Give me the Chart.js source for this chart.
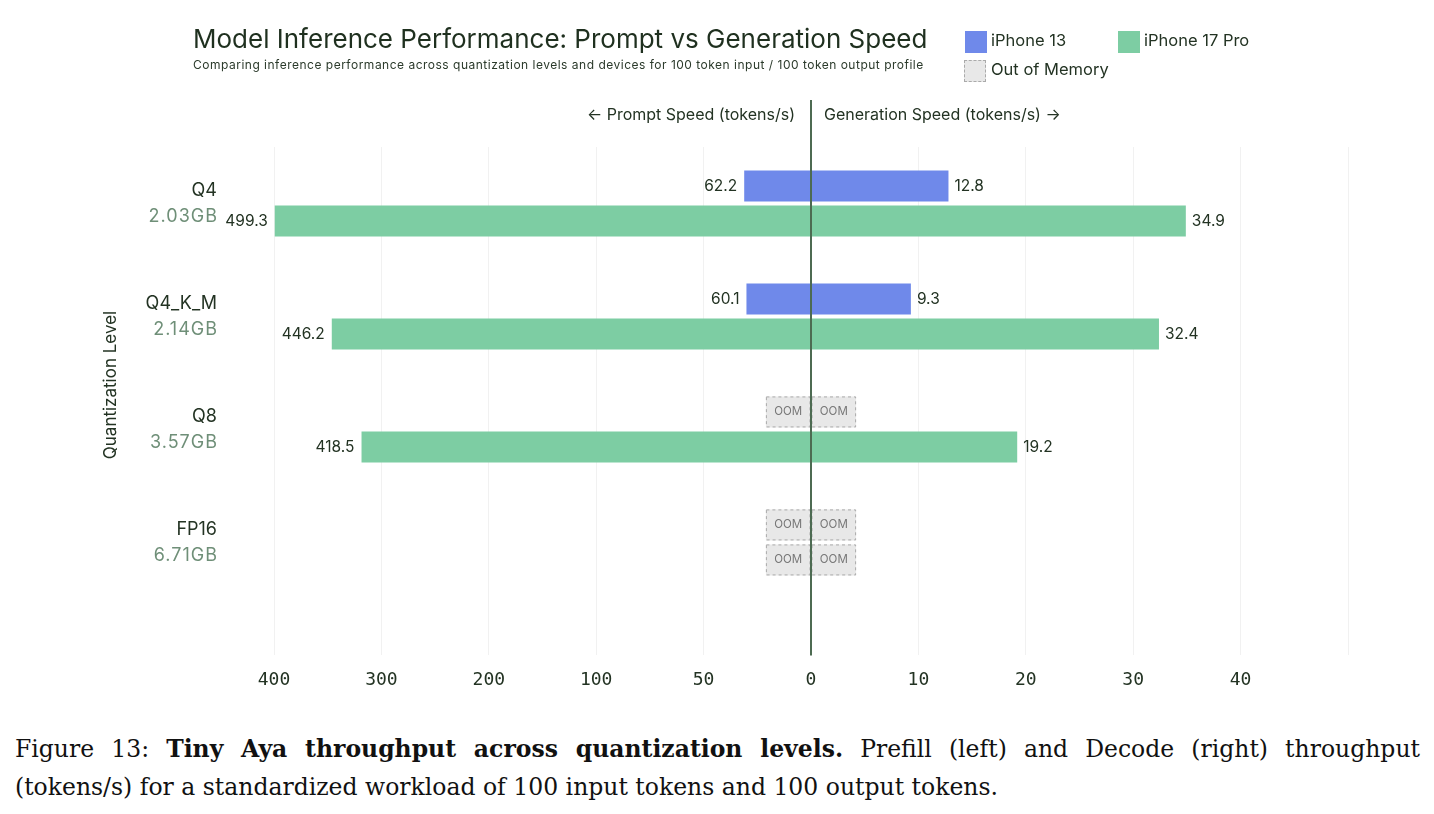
<!DOCTYPE html>
<html>
<head>
<meta charset="utf-8">
<script src="https://cdn.jsdelivr.net/npm/chart.js@4"></script>
<style>
  body { margin: 0; background: #fff; }
  #page { position: relative; width: 1434px; height: 814px; overflow: hidden; font-family: Inter, "Noto Sans", sans-serif; color: #233323; }
  #chartBox { position: absolute; left: 0; top: 0; width: 1434px; height: 715px; }
  .abs { position: absolute; white-space: nowrap; }
  #title { left: 193px; top: 23px; font-size: 26px; color: #1f301f; }
  #subtitle { left: 193px; top: 57px; font-size: 12px; letter-spacing: 0.5px; color: #2b3a2b; }
  .swatch { position: absolute; width: 22px; height: 22px; }
  .legText { font-size: 16.5px; color: #233323; }
  #caption { position: absolute; left: 15px; width: 1405px; top: 730px; font-family: "DejaVu Serif", serif; font-size: 23.5px; line-height: 38px; color: #111; }
  #caption .l1 { white-space: nowrap; text-align: justify; text-align-last: justify; }
  #caption .l2 { white-space: nowrap; }
</style>
</head>
<body>
<div id="page">
  <div id="chartBox"><canvas id="chart"></canvas></div>
  <div id="title" class="abs">Model Inference Performance: Prompt vs Generation Speed</div>
  <div id="subtitle" class="abs">Comparing inference performance across quantization levels and devices for 100 token input / 100 token output profile</div>
  <div class="swatch" style="left:965px;top:31px;background:#6f89ea"></div>
  <div class="abs legText" style="left:991px;top:30px">iPhone 13</div>
  <div class="swatch" style="left:1118px;top:31px;background:#7dcda3"></div>
  <div class="abs legText" style="left:1144px;top:30px">iPhone 17 Pro</div>
  <div class="swatch" style="left:964px;top:60px;width:20px;height:20px;background:#e8e8e8;border:1px dashed #aaa"></div>
  <div class="abs legText" style="left:991px;top:59px">Out of Memory</div>
  <div id="caption">
    <div class="l1">Figure 13: <b>Tiny Aya throughput across quantization levels.</b> Prefill (left) and Decode (right) throughput</div>
    <div class="l2">(tokens/s) for a standardized workload of 100 input tokens and 100 output tokens.</div>
  </div>
</div>
<script>
const quantLevels = ['Q4', 'Q4_K_M', 'Q8', 'FP16'];
const modelSizes = ['2.03GB', '2.14GB', '3.57GB', '6.71GB'];

// null = out of memory
const iphone13Prompt = [62.2, 60.1, null, null];
const iphone13Gen = [12.8, 9.3, null, null];
const iphone17Prompt = [499.3, 446.2, 418.5, null];
const iphone17Gen = [34.9, 32.4, 19.2, null];

// prompt speed is drawn at 1/10 scale on the left half
const promptScale = 10;
const oomWidth = 4.2;

const xTickLabels = {
    '-50': '400', '-40': '300', '-30': '200', '-20': '100', '-10': '50',
    '0': '0', '10': '10', '20': '20', '30': '30', '40': '40', '50': ''
};

const blue = '#6f89ea';
const green = '#7dcda3';
const textDark = '#233323';

function barPoints(values, sign, scale) {
    const pts = [];
    values.forEach((v, i) => {
        if (v !== null) pts.push({ x: sign * v / scale, y: i, raw: v });
    });
    return pts;
}

function oomPoints(values, sign) {
    const pts = [];
    values.forEach((v, i) => {
        if (v === null) pts.push({ x: sign * oomWidth, y: i });
    });
    return pts;
}

const datasets = [
    { label: 'iPhone 13 prompt', data: barPoints(iphone13Prompt, -1, promptScale), stack: 'i13', backgroundColor: blue, side: 'left' },
    { label: 'iPhone 13 gen', data: barPoints(iphone13Gen, 1, 1), stack: 'i13', backgroundColor: blue, side: 'right' },
    { label: 'iPhone 13 prompt OOM', data: oomPoints(iphone13Prompt, -1), stack: 'i13', backgroundColor: '#e8e8e8', oom: true },
    { label: 'iPhone 13 gen OOM', data: oomPoints(iphone13Gen, 1), stack: 'i13', backgroundColor: '#e8e8e8', oom: true },
    { label: 'iPhone 17 prompt', data: barPoints(iphone17Prompt, -1, promptScale), stack: 'i17', backgroundColor: green, side: 'left' },
    { label: 'iPhone 17 gen', data: barPoints(iphone17Gen, 1, 1), stack: 'i17', backgroundColor: green, side: 'right' },
    { label: 'iPhone 17 prompt OOM', data: oomPoints(iphone17Prompt, -1), stack: 'i17', backgroundColor: '#e8e8e8', oom: true },
    { label: 'iPhone 17 gen OOM', data: oomPoints(iphone17Gen, 1), stack: 'i17', backgroundColor: '#e8e8e8', oom: true }
];

const overlayPlugin = {
    id: 'overlay',
    afterDatasetsDraw(chart) {
        const ctx = chart.ctx;
        const xs = chart.scales.x;
        const ys = chart.scales.y;
        const area = chart.chartArea;
        ctx.save();

        // value labels and OOM boxes
        chart.data.datasets.forEach((ds, di) => {
            const meta = chart.getDatasetMeta(di);
            meta.data.forEach((el, i) => {
                const p = el.getProps(['x', 'y', 'base', 'height'], true);
                if (ds.oom) {
                    const left = Math.min(p.x, p.base), right = Math.max(p.x, p.base);
                    ctx.setLineDash([3, 3]);
                    ctx.strokeStyle = '#aaaaaa';
                    ctx.lineWidth = 1;
                    ctx.strokeRect(left + 0.5, p.y - p.height / 2 + 0.5, right - left - 1, p.height - 1);
                    ctx.setLineDash([]);
                    ctx.fillStyle = '#777';
                    ctx.font = '11.5px Inter, sans-serif';
                    ctx.textAlign = 'center';
                    ctx.textBaseline = 'middle';
                    ctx.fillText('OOM', (left + right) / 2, p.y);
                } else {
                    const raw = ds.data[i].raw;
                    ctx.fillStyle = textDark;
                    ctx.font = '15.5px Inter, sans-serif';
                    ctx.textBaseline = 'middle';
                    if (ds.side === 'left') {
                        ctx.textAlign = 'right';
                        ctx.fillText(raw.toFixed(1), p.x - 7, p.y);
                    } else {
                        ctx.textAlign = 'left';
                        ctx.fillText(raw.toFixed(1), p.x + 6, p.y);
                    }
                }
            });
        });

        // center line
        const cx = xs.getPixelForValue(0);
        ctx.strokeStyle = '#4d6b52';
        ctx.lineWidth = 2;
        ctx.beginPath();
        ctx.moveTo(cx, 100);
        ctx.lineTo(cx, area.bottom);
        ctx.stroke();

        // direction labels
        ctx.fillStyle = textDark;
        ctx.font = '16px Inter, sans-serif';
        ctx.textBaseline = 'middle';
        ctx.textAlign = 'right';
        ctx.fillText('\u2190 Prompt Speed (tokens/s)', cx - 16, 115);
        ctx.textAlign = 'left';
        ctx.fillText('Generation Speed (tokens/s) \u2192', cx + 13, 115);

        // category labels
        quantLevels.forEach((q, i) => {
            const y = ys.getPixelForValue(i);
            ctx.textAlign = 'right';
            ctx.font = '18px Inter, sans-serif';
            ctx.fillStyle = textDark;
            ctx.letterSpacing = '0px';
            ctx.fillText(q, 217, y - 13);
            ctx.fillStyle = '#6f8f78';
            ctx.letterSpacing = '1px';
            ctx.fillText(modelSizes[i], 218, y + 13);
        });
        ctx.letterSpacing = '0px';

        // y axis title
        ctx.translate(111, 385);
        ctx.rotate(-Math.PI / 2);
        ctx.textAlign = 'center';
        ctx.fillStyle = textDark;
        ctx.font = '17px Inter, sans-serif';
        ctx.fillText('Quantization Level', 0, 0);
        ctx.restore();
    }
};

new Chart(document.getElementById('chart'), {
    type: 'bar',
    data: { datasets: datasets },
    options: {
        indexAxis: 'y',
        responsive: true,
        maintainAspectRatio: false,
        animation: false,
        categoryPercentage: 0.62,
        barPercentage: 0.885,
        layout: { padding: { left: 274, right: 86, top: 147, bottom: 10 } },
        plugins: { legend: { display: false }, tooltip: { enabled: false } },
        scales: {
            x: {
                type: 'linear',
                stacked: true,
                min: -50,
                max: 50,
                ticks: {
                    stepSize: 10,
                    padding: 14,
                    color: textDark,
                    font: { family: '"DejaVu Sans Mono", monospace', size: 18 },
                    callback: (v) => xTickLabels[String(v)]
                },
                grid: { color: '#f1f1f1', drawTicks: false },
                border: { display: false }
            },
            y: {
                type: 'linear',
                stacked: true,
                reverse: true,
                offset: false,
                min: -0.5,
                max: 4,
                display: false,
                afterBuildTicks: (scale) => {
                    scale.ticks = quantLevels.map((q, i) => ({ value: i }));
                }
            }
        }
    },
    plugins: [overlayPlugin]
});
</script>
</body>
</html>
